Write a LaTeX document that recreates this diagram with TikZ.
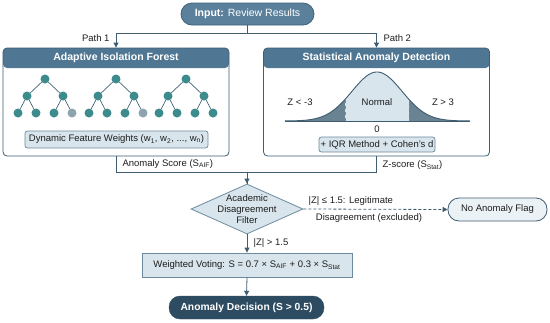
\documentclass[tikz,border=0pt]{standalone}
\usepackage{fontspec}
\setmainfont{Liberation Sans}
\usetikzlibrary{shapes.geometric,arrows.meta,calc}
\definecolor{steel}{HTML}{5A809B}
\definecolor{steeld}{HTML}{3E6179}
\definecolor{head}{HTML}{4F7793}
\definecolor{edgec}{HTML}{3F5C70}
\definecolor{lite}{HTML}{D8E5EC}
\definecolor{liteb}{HTML}{6C8A9C}
\definecolor{tealc}{HTML}{3E8B8D}
\definecolor{grayleaf}{HTML}{8DA4AF}
\definecolor{darkc}{HTML}{2E4C61}
\definecolor{tailc}{HTML}{6A8392}
\definecolor{txt}{HTML}{1E1E1E}
\begin{document}
\begin{tikzpicture}[x=1pt,y=-1pt,
  font=\fontsize{9.5}{11.5}\selectfont, text=txt,
  arr/.style={draw=edgec, line width=0.8pt, -{Triangle[length=5pt,width=5pt]}},
  ln/.style={draw=edgec, line width=0.8pt},
  panel/.style={draw=edgec, line width=0.8pt, rounded corners=4pt, minimum width=226pt, minimum height=108pt, inner sep=0pt,
    path picture={\fill[head] (path picture bounding box.north west) rectangle ($(path picture bounding box.north east)+(0,20)$);}},
  headtxt/.style={text=white, font=\fontsize{10.5}{12}\selectfont\bfseries},
  litebox/.style={draw=liteb, fill=lite, line width=0.7pt, rounded corners=2.5pt, inner sep=0pt},
  tn/.style={circle, fill=tealc, minimum size=9pt, inner sep=0pt},
  tg/.style={circle, fill=grayleaf, minimum size=9pt, inner sep=0pt},
  te/.style={draw=edgec!85!tealc, line width=0.7pt},
  crv/.style={draw=edgec, line width=0.9pt}
]
\useasboundingbox (0,0) rectangle (550,322);

% input
\node[draw=steeld, fill=steel, line width=0.8pt, rounded corners=11pt, minimum width=133pt, minimum height=22pt, text=white, font=\fontsize{10.5}{12}\selectfont] (in) at (247.5,14) {\textbf{Input:} Review Results};

% panels
\node[panel] (aif) at (116,102) {};
\node[panel] (stat) at (376.5,102) {};
\node[headtxt] (aifh) at (116,58) {Adaptive Isolation Forest};
\node[headtxt] (stath) at (376.5,58) {Statistical Anomaly Detection};

\draw[arr] (in.south) -- ++(0,8) -| (aif.north);
\draw[arr] (in.south) -- ++(0,8) -| (stat.north);
\node[anchor=east] (p1) at (113,38) {Path 1};
\node[anchor=west] (p2) at (380,38) {Path 2};

% trees
\foreach \i/\r/\last in {1/45/tg,2/116/tg,3/186/tn}{
  \node[tn] (t\i r) at (\r,79) {};
  \node[tn] (t\i a) at (\r-18,96) {};
  \node[tn] (t\i b) at (\r+18,96) {};
  \node[tn] (t\i c) at (\r-27,113) {};
  \node[tn] (t\i d) at (\r-9,113) {};
  \node[tn] (t\i e) at (\r+9,113) {};
  \node[\last] (t\i f) at (\r+27,113) {};
  \draw[te] (t\i r) -- (t\i a) (t\i r) -- (t\i b)
    (t\i a) -- (t\i c) (t\i a) -- (t\i d) (t\i b) -- (t\i e) (t\i b) -- (t\i f);
}
\node[litebox, minimum width=183pt, minimum height=17pt] (dfw) at (116.5,139.5) {Dynamic Feature Weights (w\textsubscript{1}, w\textsubscript{2}, ..., w\textsubscript{n})};

% bell curve
\fill[tailc] (285,121) -- plot[domain=285:345, samples=60] (\x,{121-49*exp(-((\x-377)^2)/1250)}) -- (345,121) -- cycle;
\fill[lite] (345,121) -- plot[domain=345:409, samples=60] (\x,{121-49*exp(-((\x-377)^2)/1250)}) -- (409,121) -- cycle;
\fill[tailc] (409,121) -- plot[domain=409:470, samples=60] (\x,{121-49*exp(-((\x-377)^2)/1250)}) -- (470,121) -- cycle;
\draw[edgec!70, dashed, line width=0.6pt] (345,121) -- (345,{121-49*exp(-(32^2)/1250)});
\draw[edgec!70, dashed, line width=0.6pt] (409,121) -- (409,{121-49*exp(-(32^2)/1250)});
\draw[crv] plot[domain=285:470, samples=150] (\x,{121-49*exp(-((\x-377)^2)/1250)});
\draw[crv] (285,121) -- (470,121);
\node (zl) at (300,102) {Z < -3};
\node (zn) at (377,102) {Normal};
\node (zr) at (443,102) {Z > 3};
\node (z0) at (377,129) {0};
\node[litebox, minimum width=116pt, minimum height=15pt] (iqr) at (377,144.5) {+ IQR Method + Cohen's d};

% diamond
\node[diamond, draw=liteb, fill=lite, line width=0.8pt, minimum width=112pt, minimum height=50pt, inner sep=0pt] (dia) at (247,209) {};
\node[align=center, font=\fontsize{9.5}{11}\selectfont] (diat) at (dia.center) {Academic\\Disagreement\\Filter};

\draw[ln] (aif.south) -- ++(0,16) -| (dia.north);
\draw[arr] (stat.south) -- ++(0,16) -| (dia.north);
\node[anchor=west] (las) at (119,164) {Anomaly Score (S\textsubscript{AIF})};
\node[anchor=west] (lzs) at (379,165) {Z-score (S\textsubscript{Stat})};

% no anomaly flag
\node[draw=edgec, fill=lite!50, line width=0.8pt, rounded corners=11pt, minimum width=99pt, minimum height=23pt] (nf) at (497.5,209.5) {No Anomaly Flag};
\draw[arr, dash pattern=on 3pt off 2pt] (dia.east) -- (nf.west);
\node[anchor=west] (l1) at (305,201) {|Z| ≤ 1.5: Legitimate};
\node (l2) at (369,218) {Disagreement (excluded)};

% weighted voting
\node[draw=liteb, fill=lite, line width=0.8pt, minimum width=210pt, minimum height=24pt] (wv) at (247,265) {Weighted Voting: S = 0.7 × S\textsubscript{AIF} + 0.3 × S\textsubscript{Stat}};
\draw[arr] (dia.south) -- (wv.north);
\node[anchor=west] (lz) at (250,243) {|Z| > 1.5};

% decision
\node[draw=darkc, fill=darkc, rounded corners=11pt, minimum width=155pt, minimum height=23pt, text=white, font=\fontsize{10.3}{12}\selectfont\bfseries] (dec) at (246.5,307.5) {Anomaly Decision (S > 0.5)};
\draw[arr] (wv.south) -- (dec.north);
\end{tikzpicture}
\end{document}
